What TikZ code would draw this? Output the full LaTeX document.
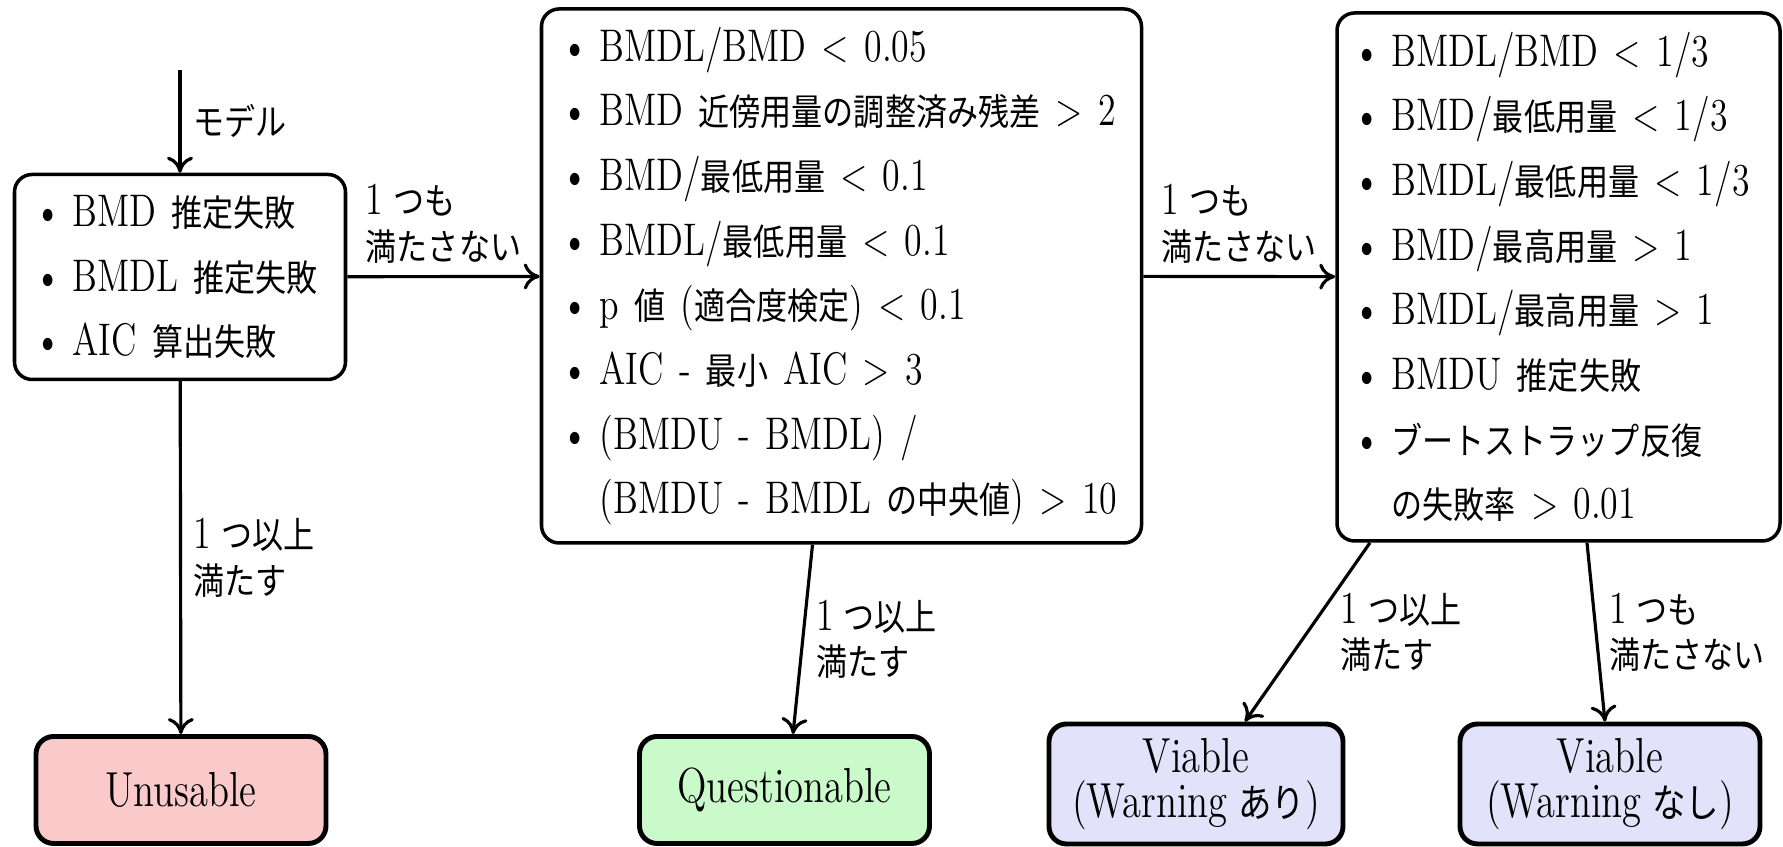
\documentclass[tikz,border=0pt]{standalone}
\usepackage{fontspec}
\setmainfont{Latin Modern Roman}[FakeStretch=0.785, WordSpace=0.85]
\newfontfamily\jp{Noto Sans CJK JP}[Scale=0.8, FakeStretch=0.85]
\usepackage{xcolor}
\usepackage{tikz}
\usetikzlibrary{arrows.meta, positioning, calc}
\definecolor{unusablecolor}{RGB}{250,202,202}
\definecolor{questcolor}{RGB}{202,250,202}
\definecolor{viablecolor}{RGB}{226,226,250}
\newcommand{\ja}[1]{{\jp #1}}
\newcommand{\bul}{\makebox[0.38cm][l]{\textbullet}}
\newcommand{\hangin}{\hspace*{0.38cm}}

\begin{document}
\begin{tikzpicture}[
    checkbox/.style={draw, line width=1pt, rounded corners=5pt, align=left, inner xsep=0.2cm, inner ysep=0pt, font=\fontsize{13}{18.4}\selectfont},
    result/.style={draw, line width=1.4pt, rounded corners=5pt, align=center, minimum width=2.9cm, font=\fontsize{14}{13}\selectfont},
    flow/.style={-{To[length=1.6mm, width=2.6mm]}, line width=0.9pt},
    lbl/.style={align=left, font=\fontsize{13}{13}\selectfont}
]
    \useasboundingbox (0,0) rectangle (17.83,8.47);

    % Checks
    \node[checkbox, minimum width=3.31cm, minimum height=2.05cm, text width=2.91cm] (failcheck) at (1.80,5.70) {%
        \bul BMD \ja{推定失敗}\\
        \bul BMDL \ja{推定失敗}\\
        \bul AIC \ja{算出失敗}};

    \node[checkbox, minimum width=6.0cm, minimum height=5.34cm, text width=5.6cm] (qcheck) at (8.415,5.71) {%
        \bul BMDL/BMD < 0.05\\
        \bul BMD \ja{近傍用量の調整済み残差} > 2\\
        \bul BMD/\ja{最低用量} < 0.1\\
        \bul BMDL/\ja{最低用量} < 0.1\\
        \bul p \ja{値} (\ja{適合度検定}) < 0.1\\
        \bul AIC - \ja{最小} AIC > 3\\
        \bul (BMDU - BMDL) /\\
        \hangin (BMDU - BMDL \ja{の中央値}) > 10};

    \node[checkbox, minimum width=4.43cm, minimum height=5.28cm, inner xsep=0.165cm, text width=4.1cm] (wcheck) at (15.585,5.70) {%
        \bul BMDL/BMD < 1/3\\
        \bul BMD/\ja{最低用量} < 1/3\\
        \bul BMDL/\ja{最低用量} < 1/3\\
        \bul BMD/\ja{最高用量} > 1\\
        \bul BMDL/\ja{最高用量} > 1\\
        \bul BMDU \ja{推定失敗}\\
        \bul \ja{ブートストラップ反復}\\
        \hangin \ja{の失敗率} > 0.01};

    % Results
    \node[result, fill=unusablecolor, minimum height=1.07cm] (unusable) at (1.81,0.57) {Unusable};
    \node[result, fill=questcolor, minimum height=1.07cm] (questionable) at (7.845,0.57) {Questionable};
    \node[result, fill=viablecolor, minimum width=2.94cm, minimum height=1.2cm] (viablew) at (11.96,0.63) {Viable\\(Warning \ja{あり})};
    \node[result, fill=viablecolor, minimum width=3.0cm, minimum height=1.2cm] (viablenw) at (16.10,0.63) {Viable\\(Warning \ja{なし})};

    % Flow
    \coordinate (model) at (1.80,7.77);
    \draw[flow] (model) -- node[lbl, right] {\ja{モデル}} (failcheck);
    \draw[flow] (failcheck) -- node[lbl, above] {1 \ja{つも}\\\ja{満たさない}} (qcheck);
    \draw[flow] (qcheck) -- node[lbl, above] {1 \ja{つも}\\\ja{満たさない}} (wcheck);
    \draw[flow] (failcheck) -- node[lbl, right] {1 \ja{つ以上}\\\ja{満たす}} (unusable);
    \draw[flow] ([xshift=-0.29cm]qcheck.south) -- node[lbl, right] {1 \ja{つ以上}\\\ja{満たす}} ([xshift=0.085cm]questionable.north);
    \draw[flow] ([xshift=-1.885cm]wcheck.south) -- node[lbl, right, xshift=0.2cm] {1 \ja{つ以上}\\\ja{満たす}} ([xshift=0.49cm]viablew.north);
    \draw[flow] ([xshift=0.285cm]wcheck.south) -- node[lbl, right] {1 \ja{つも}\\\ja{満たさない}} ([xshift=-0.05cm]viablenw.north);
\end{tikzpicture}
\end{document}
